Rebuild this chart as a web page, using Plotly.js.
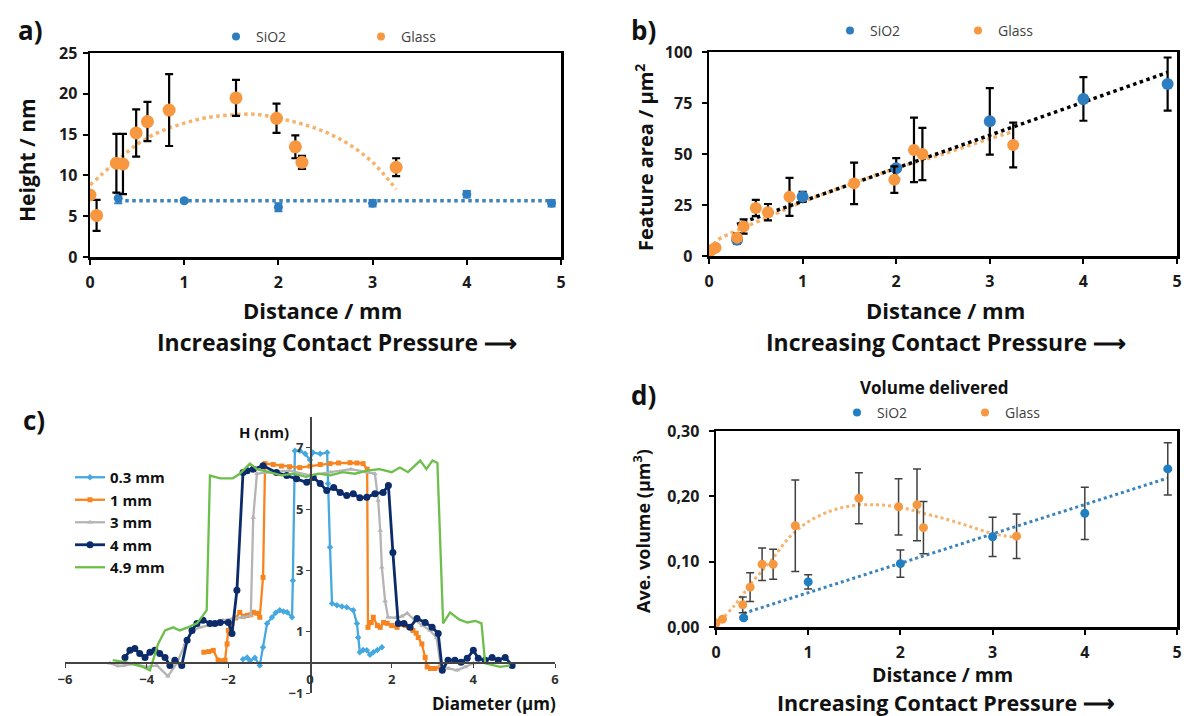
<!DOCTYPE html>
<html>
<head>
<meta charset="utf-8">
<script src="https://cdn.plot.ly/plotly-3.0.1.min.js"></script>
<style>html,body{margin:0;padding:0;background:#fff;}#chart{width:1184px;height:716px;}</style>
</head>
<body>
<div id="chart"></div>
<script>
// ---------- Panel a: Height vs distance ----------
const aGlassX = [0, 0.07, 0.28, 0.35, 0.49, 0.61, 0.84, 1.55, 1.98, 2.18, 2.25, 3.25];
const aGlassY = [7.6, 5.1, 11.5, 11.4, 15.2, 16.6, 18.0, 19.5, 17.0, 13.5, 11.6, 11.0];
const aGlassErr = [0, 1.9, 3.6, 3.7, 2.9, 2.4, 4.4, 2.2, 1.8, 1.4, 0.8, 1.1];
const aSiX = [0.3, 1.0, 2.0, 3.0, 4.0, 4.9];
const aSiY = [7.2, 6.9, 6.1, 6.6, 7.7, 6.6];
const aSiErr = [0.6, 0.2, 0.5, 0.4, 0.4, 0.4];
const aGlassTrendX = [0, 0.25, 0.5, 0.75, 1.0, 1.25, 1.5, 1.75, 2.0, 2.25, 2.5, 2.75, 3.0, 3.25];
const aGlassTrendY = [8.8, 11.4, 13.8, 15.4, 16.4, 17.1, 17.4, 17.5, 17.0, 16.3, 15.3, 13.8, 11.6, 8.3];
const aSiTrendX = [0.3, 4.9];
const aSiTrendY = [6.9, 6.9];

// ---------- Panel b: Feature area vs distance ----------
const bGlassX = [0, 0.03, 0.07, 0.3, 0.37, 0.5, 0.63, 0.86, 1.55, 1.98, 2.19, 2.28, 3.25];
const bGlassY = [2, 3, 4, 9, 14.5, 23.5, 21.5, 29, 35.6, 37.4, 52, 50, 54.4];
const bGlassErr = [0, 0, 0, 2, 3.5, 4, 4, 9.3, 10.2, 6.5, 15.8, 12.8, 11];
const bSiX = [0.3, 1.0, 2.0, 3.0, 4.0, 4.9];
const bSiY = [8, 29, 43, 66, 77, 84.3];
const bSiErr = [2, 2.5, 5, 16.3, 10.7, 13];
const bGlassTrendX = [0, 0.1, 0.2, 0.4, 0.7, 1.0, 1.5, 2.0, 2.5, 3.0, 3.25];
const bGlassTrendY = [3, 8, 10.5, 14.5, 20.5, 26.5, 35, 43, 50, 57.5, 61];
const bSiTrendX = [0.3, 4.9];
const bSiTrendY = [15.5, 90];

// ---------- Panel c: height profiles ----------
const c03X = [-1.64, -1.54, -1.47, -1.35, -1.23, -1.15, -1.05, -0.93, -0.84, -0.74, -0.65, -0.56, -0.44, -0.42, -0.37, -0.25, -0.12, 0.0, 0.07, 0.25, 0.42, 0.44, 0.49, 0.54, 0.66, 0.78, 0.9, 1.06, 1.15, 1.18, 1.22, 1.3, 1.39, 1.47, 1.55, 1.65, 1.76];
const c03Y = [0.1, 0.16, 0.05, 0.15, -0.1, 0.49, 1.27, 1.47, 1.62, 1.7, 1.66, 1.63, 1.47, 2.67, 6.9, 6.9, 6.8, 6.6, 6.84, 6.8, 6.84, 5.83, 3.75, 1.92, 1.86, 1.82, 1.8, 1.7, 1.27, 0.81, 0.33, 0.4, 0.39, 0.25, 0.33, 0.4, 0.49];
const c1X = [-2.6, -2.48, -2.37, -2.25, -2.15, -2.08, -2.03, -2.0, -1.91, -1.82, -1.72, -1.63, -1.54, -1.45, -1.39, -1.3, -1.23, -1.15, -1.1, -0.9, -0.7, -0.5, -0.25, 0, 0.25, 0.49, 0.7, 0.98, 1.15, 1.3, 1.4, 1.42, 1.5, 1.55, 1.65, 1.72, 1.8, 1.89, 2.0, 2.13, 2.25, 2.33, 2.42, 2.52, 2.6, 2.65, 2.74, 2.82, 2.87, 2.95, 3.06, 3.19];
const c1Y = [0.33, 0.35, 0.39, 0.07, 0.05, 0.07, 0.6, 1.04, 1.27, 1.45, 1.63, 1.5, 1.53, 1.55, 1.63, 1.6, 1.47, 2.77, 6.48, 6.45, 6.4, 6.38, 6.35, 6.4, 6.45, 6.48, 6.5, 6.51, 6.5, 6.48, 6.3, 1.14, 1.3, 1.47, 1.2, 1.14, 1.3, 1.27, 1.2, 1.14, 1.25, 1.2, 1.15, 1.04, 0.95, 0.81, 0.6, 0.16, -0.15, -0.2, -0.2, -0.15];
const c3X = [-4.9, -4.7, -4.56, -4.3, -4.0, -3.75, -3.48, -3.26, -3.06, -2.87, -2.7, -2.5, -2.37, -2.13, -1.89, -1.64, -1.45, -1.39, -1.3, -1.0, -0.5, 0, 0.5, 1.0, 1.4, 1.59, 1.67, 1.72, 1.76, 1.84, 1.91, 2.1, 2.25, 2.38, 2.57, 2.75, 2.94, 3.1, 3.2, 3.4, 3.6, 3.8, 4.0];
const c3Y = [-0.03, -0.12, -0.1, -0.05, -0.15, -0.1, -0.45, -0.03, 0.6, 1.04, 1.14, 1.2, 1.27, 1.37, 1.43, 1.47, 1.53, 4.72, 6.15, 6.2, 6.25, 6.1, 6.2, 6.3, 6.2, 6.15, 5.28, 4.3, 3.1, 2.0, 1.47, 1.45, 1.5, 1.6, 1.37, 1.2, 1.04, 0.8, -0.1, -0.2, -0.26, -0.15, -0.03];
const c4X = [-4.53, -4.41, -4.29, -4.17, -4.04, -3.92, -3.8, -3.68, -3.55, -3.43, -3.31, -3.14, -3.01, -2.89, -2.77, -2.62, -2.45, -2.33, -2.2, -2.0, -1.91, -1.79, -1.64, -1.54, -1.39, -1.15, -0.82, -0.57, -0.33, -0.08, 0.08, 0.25, 0.41, 0.58, 0.74, 0.9, 1.06, 1.22, 1.39, 1.59, 1.79, 1.92, 2.03, 2.16, 2.3, 2.45, 2.62, 2.82, 2.99, 3.14, 3.24, 3.38, 3.55, 3.7, 3.85, 4.0, 4.12, 4.29, 4.46, 4.61, 4.78, 4.95];
const c4Y = [0.16, 0.39, 0.45, 0.29, 0.16, 0.33, 0.39, 0.29, 0.16, -0.1, 0.07, -0.1, 0.72, 1.04, 1.27, 1.37, 1.27, 1.27, 1.3, 1.3, 0.94, 2.35, 6.19, 6.25, 6.3, 6.41, 6.19, 6.09, 5.99, 5.87, 6.03, 5.83, 5.6, 5.7, 5.54, 5.44, 5.5, 5.37, 5.38, 5.5, 5.54, 5.77, 3.58, 1.27, 1.27, 1.14, 1.43, 1.3, 1.14, 0.94, -0.26, 0.07, 0.07, 0.0, 0.13, 0.39, 0.13, 0.07, 0.16, 0.07, 0.16, -0.1];
const c49X = [-4.83, -4.5, -4.09, -3.92, -3.72, -3.55, -3.35, -3.19, -2.99, -2.77, -2.62, -2.53, -2.45, -2.3, -2.2, -1.89, -1.72, -1.47, -1.3, -1.0, -0.7, -0.4, -0.1, 0.2, 0.5, 0.8, 1.1, 1.4, 1.7, 2.0, 2.2, 2.4, 2.7, 2.85, 3.0, 3.12, 3.26, 3.43, 3.65, 3.85, 4.05, 4.2, 4.29, 4.66, 4.9];
const c49Y = [0.07, 0.0, -0.15, -0.26, 0.6, 1.04, 1.14, 1.04, 1.14, 1.27, 1.53, 1.7, 6.09, 6.05, 6.0, 6.0, 6.15, 6.48, 6.3, 6.2, 6.1, 6.15, 6.05, 6.15, 6.1, 6.2, 6.15, 6.25, 6.3, 6.2, 6.35, 6.2, 6.58, 6.3, 6.58, 6.5, 1.27, 1.63, 1.4, 1.3, 1.35, 1.27, -0.03, -0.15, -0.1];
const cNames = ['0.3 mm', '1 mm', '3 mm', '4 mm', '4.9 mm'];

// ---------- Panel d: Average volume ----------
const dGlassX = [0, 0.07, 0.29, 0.37, 0.5, 0.62, 0.86, 1.55, 1.98, 2.18, 2.25, 3.26];
const dGlassY = [0.006, 0.012, 0.034, 0.061, 0.096, 0.096, 0.155, 0.197, 0.184, 0.187, 0.152, 0.139];
const dGlassErr = [0, 0, 0.012, 0.022, 0.025, 0.023, 0.07, 0.039, 0.043, 0.055, 0.04, 0.034];
const dSiX = [0.3, 1.0, 2.0, 3.0, 4.0, 4.9];
const dSiY = [0.014, 0.069, 0.097, 0.138, 0.174, 0.242];
const dSiErr = [0.002, 0.011, 0.021, 0.030, 0.040, 0.040];
const dGlassTrendX = [0, 0.2, 0.4, 0.6, 0.8, 1.0, 1.25, 1.5, 1.75, 2.0, 2.25, 2.5, 2.75, 3.0, 3.25];
const dGlassTrendY = [0.003, 0.033, 0.07, 0.102, 0.138, 0.161, 0.178, 0.186, 0.187, 0.183, 0.174, 0.165, 0.154, 0.143, 0.137];
const dSiTrendX = [0.3, 4.9];
const dSiTrendY = [0.021, 0.228];

// ---------- styling ----------
const FONT = 'Open Sans, Noto Sans, sans-serif';
const SI = '#2f7dc1';
const GL = '#f7973f';
const GL_TREND = '#f6b36e';
const SI_TREND = '#3a84bd';
const C_COLORS = ['#45a8e0', '#f7841f', '#b4b4b4', '#0c2b6b', '#6cbf4a'];
const C_SYMBOLS = ['diamond', 'square', 'triangle-up', 'circle', null];
const C_MSIZE = [5, 5, 5, 7, 0];

function px2fx(p) { return p / 1184; }
function py2fy(p) { return 1 - p / 716; }

const traces = [];
function errBar(arr, color, th) {
  return {type: 'data', array: arr, visible: true, color: color, thickness: th, width: 4};
}
function legendDot(name, color, leg, xa, ya) {
  traces.push({x: [null], y: [null], type: 'scatter', mode: 'markers', name: name,
    marker: {color: color, size: 8}, legend: leg, xaxis: xa, yaxis: ya, hoverinfo: 'skip'});
}

// Panel a
traces.push({x: aGlassTrendX, y: aGlassTrendY, xaxis: 'x', yaxis: 'y', mode: 'lines', type: 'scatter',
  line: {color: GL_TREND, width: 3.5, dash: 'dot', shape: 'spline'}, showlegend: false});
traces.push({x: aSiTrendX, y: aSiTrendY, xaxis: 'x', yaxis: 'y', mode: 'lines', type: 'scatter',
  line: {color: SI_TREND, width: 3.5, dash: 'dot'}, showlegend: false});
traces.push({x: aSiX, y: aSiY, xaxis: 'x', yaxis: 'y', mode: 'markers', type: 'scatter',
  marker: {color: SI, size: 9}, error_y: errBar(aSiErr, SI, 2), showlegend: false});
traces.push({x: aGlassX, y: aGlassY, xaxis: 'x', yaxis: 'y', mode: 'markers', type: 'scatter',
  marker: {color: GL, size: 13}, error_y: errBar(aGlassErr, '#000', 2.2), showlegend: false});
legendDot('SiO2', SI, 'legend', 'x', 'y');
legendDot('Glass', GL, 'legend', 'x', 'y');

// Panel b
traces.push({x: bGlassTrendX, y: bGlassTrendY, xaxis: 'x2', yaxis: 'y2', mode: 'lines', type: 'scatter',
  line: {color: GL_TREND, width: 3.5, dash: 'dot', shape: 'spline'}, showlegend: false});
traces.push({x: bSiTrendX, y: bSiTrendY, xaxis: 'x2', yaxis: 'y2', mode: 'lines', type: 'scatter',
  line: {color: '#000', width: 3.5, dash: 'dot'}, showlegend: false});
traces.push({x: bSiX, y: bSiY, xaxis: 'x2', yaxis: 'y2', mode: 'markers', type: 'scatter',
  marker: {color: SI, size: 12}, error_y: errBar(bSiErr, '#000', 2.2), showlegend: false});
traces.push({x: bGlassX, y: bGlassY, xaxis: 'x2', yaxis: 'y2', mode: 'markers', type: 'scatter',
  marker: {color: GL, size: 12}, error_y: errBar(bGlassErr, '#000', 2.2), showlegend: false});
legendDot('SiO2', SI, 'legend2', 'x2', 'y2');
legendDot('Glass', GL, 'legend2', 'x2', 'y2');

// Panel c
const cXs = [c03X, c1X, c3X, c4X, c49X];
const cYs = [c03Y, c1Y, c3Y, c4Y, c49Y];
for (let i = 0; i < 5; i++) {
  const t = {x: cXs[i], y: cYs[i], xaxis: 'x3', yaxis: 'y3', type: 'scatter', name: cNames[i],
    legend: 'legend3', line: {color: C_COLORS[i], width: i === 3 ? 2.8 : 2.3}};
  if (C_SYMBOLS[i]) {
    t.mode = 'lines+markers';
    t.marker = {color: C_COLORS[i], size: C_MSIZE[i], symbol: C_SYMBOLS[i]};
  } else {
    t.mode = 'lines';
  }
  traces.push(t);
}

// Panel d
traces.push({x: dGlassTrendX, y: dGlassTrendY, xaxis: 'x4', yaxis: 'y4', mode: 'lines', type: 'scatter',
  line: {color: GL_TREND, width: 3, dash: 'dot', shape: 'spline'}, showlegend: false});
traces.push({x: dSiTrendX, y: dSiTrendY, xaxis: 'x4', yaxis: 'y4', mode: 'lines', type: 'scatter',
  line: {color: SI_TREND, width: 3, dash: 'dot'}, showlegend: false});
traces.push({x: dSiX, y: dSiY, xaxis: 'x4', yaxis: 'y4', mode: 'markers', type: 'scatter',
  marker: {color: '#1f7fc2', size: 9}, error_y: errBar(dSiErr, '#404040', 1.5), showlegend: false});
traces.push({x: dGlassX, y: dGlassY, xaxis: 'x4', yaxis: 'y4', mode: 'markers', type: 'scatter',
  marker: {color: GL, size: 9}, error_y: errBar(dGlassErr, '#404040', 1.5), showlegend: false});
legendDot('SiO2', '#1f7fc2', 'legend4', 'x4', 'y4');
legendDot('Glass', GL, 'legend4', 'x4', 'y4');

// axes
const tickFont = {family: FONT, size: 16, color: '#1a1a1a', weight: 'bold'};
function boxAxis(domain, range, dtick, anchor, extra) {
  return Object.assign({domain: domain, range: range, dtick: dtick, anchor: anchor,
    showline: true, linecolor: '#000', linewidth: 2.5, mirror: true,
    ticks: 'outside', ticklen: 5, tickwidth: 2, tickcolor: '#000',
    showgrid: false, zeroline: false, tickfont: tickFont, fixedrange: true}, extra || {});
}

function ann(text, x, y, size, extra) {
  return Object.assign({text: text, x: px2fx(x), y: py2fy(y), xref: 'paper', yref: 'paper',
    showarrow: false, xanchor: 'center', yanchor: 'middle',
    font: {family: FONT, size: size, color: '#111', weight: 'bold'}}, extra || {});
}

const legendBase = {orientation: 'h', xanchor: 'left', yanchor: 'middle', bgcolor: 'rgba(0,0,0,0)',
  font: {family: FONT, size: 14, color: '#404040'}, entrywidth: 95, entrywidthmode: 'pixels',
  itemclick: false, itemdoubleclick: false};

const layout = {
  width: 1184, height: 716,
  margin: {l: 0, r: 0, t: 0, b: 0},
  paper_bgcolor: '#fff', plot_bgcolor: 'rgba(0,0,0,0)',
  separators: ', ',
  showlegend: true,
  font: {family: FONT},
  xaxis: boxAxis([px2fx(90), px2fx(561)], [0, 5], 1, 'y', {ticklabelstandoff: 4}),
  yaxis: boxAxis([py2fy(257), py2fy(53)], [0, 25], 5, 'x', {ticklabelstandoff: 2}),
  xaxis2: boxAxis([px2fx(709), px2fx(1177)], [0, 5], 1, 'y2', {ticklabelstandoff: 4}),
  yaxis2: boxAxis([py2fy(256), py2fy(52)], [0, 100], 25, 'x2', {ticklabelstandoff: 6}),
  xaxis3: {domain: [px2fx(65), px2fx(555)], range: [-6, 6], dtick: 2, anchor: 'free', position: py2fy(662),
    showline: true, linecolor: '#444', linewidth: 1.5, ticks: 'outside', ticklen: 4, tickcolor: '#444',
    showgrid: false, zeroline: false, fixedrange: true, ticklabelstandoff: 1,
    tickfont: {family: FONT, size: 13, color: '#333', weight: 'bold'}},
  yaxis3: {domain: [py2fy(693), py2fy(417)], range: [-1, 8], tickvals: [-1, 1, 3, 5, 7], anchor: 'free', position: px2fx(310),
    showline: true, linecolor: '#444', linewidth: 1.5, ticks: 'outside', ticklen: 4, tickcolor: '#444',
    showgrid: false, zeroline: false, fixedrange: true,
    tickfont: {family: FONT, size: 13, color: '#333', weight: 'bold'}},
  xaxis4: boxAxis([px2fx(716), px2fx(1177)], [0, 5], 1, 'y4', {ticklabelstandoff: 4}),
  yaxis4: boxAxis([py2fy(627), py2fy(431)], [0, 0.3], 0.1, 'x4', {tickformat: '.2f', ticklabelstandoff: 6}),
  legend: Object.assign({}, legendBase, {x: px2fx(216), y: py2fy(37), entrywidth: 100}),
  legend2: Object.assign({}, legendBase, {x: px2fx(830), y: py2fy(31), entrywidth: 83}),
  legend3: {orientation: 'v', xanchor: 'left', yanchor: 'top', x: px2fx(70), y: py2fy(461),
    bgcolor: 'rgba(0,0,0,0)', font: {family: FONT, size: 15, color: '#111', weight: 'bold'},
    itemclick: false, itemdoubleclick: false, tracegroupgap: 0},
  legend4: Object.assign({}, legendBase, {x: px2fx(837), y: py2fy(413), entrywidth: 83}),
  annotations: [
    ann('a)', 30, 30, 26),
    ann('b)', 643, 30, 26),
    ann('c)', 34, 420, 26),
    ann('d)', 643, 395, 26),
    ann('Height / nm', 27, 160, 21, {textangle: -90}),
    ann('Distance / mm', 322, 310, 22),
    ann('Increasing Contact Pressure \u27F6', 337, 342, 23),
    ann('Feature area / \u03BCm<sup>2</sup>', 645, 158, 20, {textangle: -90}),
    ann('Distance / mm', 945, 310, 22),
    ann('Increasing Contact Pressure \u27F6', 946, 342, 23),
    ann('H (nm)', 264, 432, 15),
    ann('Diameter (\u03BCm)', 494, 703, 17),
    ann('Volume delivered', 934, 387, 17),
    ann('Ave. volume (\u03BCm<sup>3</sup>)', 642, 531, 18, {textangle: -90}),
    ann('Distance / mm', 942, 674, 19.5),
    ann('Increasing Contact Pressure \u27F6', 946, 702, 21.5)
  ]
};

Plotly.newPlot('chart', traces, layout, {displayModeBar: false, staticPlot: true});
</script>
</body>
</html>
